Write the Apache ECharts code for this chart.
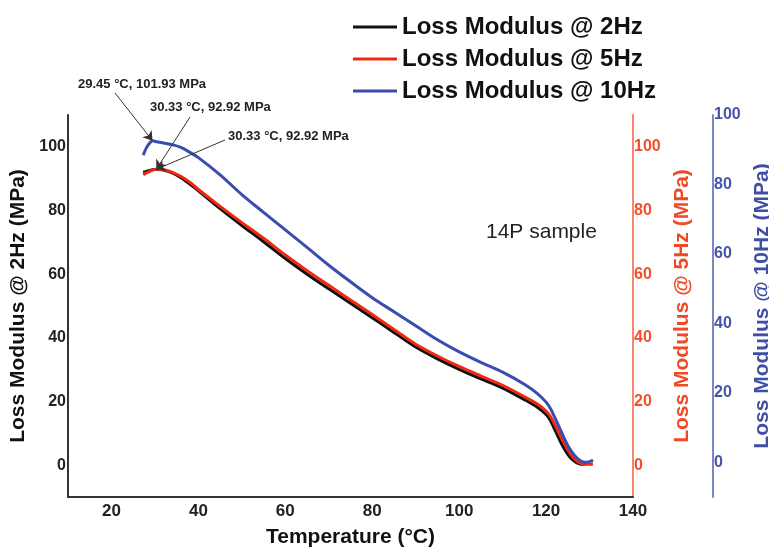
<!DOCTYPE html>
<html>
<head>
<meta charset="utf-8">
<script src="https://cdn.jsdelivr.net/npm/echarts@6/dist/echarts.min.js"></script>
<style>
  html, body { margin: 0; padding: 0; background: #fff; }
  #loss_chart { width: 769px; height: 550px; }
</style>
</head>
<body>
<div id="loss_chart"></div>
<script>
// 温度 (°C)
var temps = [27.3, 28.0, 28.8, 29.45, 30.33, 32, 34, 36, 38, 40, 45, 50, 55, 60, 65, 70, 75, 80, 85, 90,
  95, 100, 105, 110, 115, 118, 120, 121, 122, 123, 124, 125, 126, 127, 128, 129, 130, 130.8]

// loss modulus (MPa)
var loss2Hz = [92.0, 92.3, 92.6, 92.8, 92.92, 92.7, 91.8, 90.3, 88.3, 86.2, 80.6, 75.3, 70.2, 64.9, 60.0, 55.4,
  50.9, 46.3, 41.7, 37.1, 33.4, 30.1, 27.1, 24.2, 20.6, 18.2, 15.9, 14.0, 11.2, 8.3, 5.6, 3.4, 1.8, 0.8, 0.3, 0.3, null, null]
var loss5Hz = [91.2, 91.8, 92.3, 92.7, 92.92, 92.8, 92.0, 90.7, 88.9, 86.6, 81.3, 76.2, 71.3, 66.0, 61.1, 56.5,
  51.9, 47.3, 42.6, 38.0, 34.3, 31.0, 28.0, 25.1, 21.5, 19.2, 17.0, 15.3, 12.8, 10.0, 7.3, 4.8, 2.8, 1.4, 0.6, 0.3, 0.3, 0.4]
var loss10Hz = [97.4, 99.6, 101.2, 101.93, 101.6, 101.2, 100.7, 99.8, 98.3, 96.6, 91.2, 85.0, 79.4, 73.9, 68.4, 62.8,
  57.6, 52.6, 48.2, 43.8, 39.4, 35.6, 32.3, 29.2, 25.4, 22.5, 19.8, 17.8, 15.0, 12.0, 9.0, 6.2, 4.0, 2.4, 1.3, 0.9, 1.1, 1.6]

// 峰值标注
var peak10Hz = [29.45, 101.93]
var peak5Hz = [30.33, 92.92]
var peak2Hz = [30.33, 92.92]

function pairs(xs, ys) {
  var out = []
  for (var i = 0; i < xs.length; i++) {
    out.push([xs[i], ys[i]])
  }
  return out
}

var FONT = 'Liberation Sans, Arial, sans-serif'

function yLabel(v) {
  return v >= 0 && v % 20 === 0 ? String(v) : ''
}

var arrowStyle = { color: '#333', width: 1, type: 'solid' }

var loss_chart = echarts.init(document.getElementById('loss_chart'))
loss_chart_option = {
  animation: false,
  textStyle: { fontFamily: FONT },
  legend: {
    orient: 'vertical',
    left: 348,
    top: 10,
    itemWidth: 44,
    itemHeight: 3,
    itemGap: 8,
    icon: 'rect',
    textStyle: { fontSize: 24, fontWeight: 'bold', color: '#111', fontFamily: FONT },
    data: ['Loss Modulus @ 2Hz', 'Loss Modulus @ 5Hz', 'Loss Modulus @ 10Hz'],
  },
  grid: {
    left: 68,
    right: 136,
    top: 115,
    bottom: 53,
    outerBoundsMode: 'none',
    containLabel: false,
  },
  xAxis: {
    type: 'value',
    min: 10,
    max: 140,
    interval: 10,
    name: 'Temperature (°C)',
    nameLocation: 'middle',
    nameGap: 30,
    nameTextStyle: { fontSize: 21, fontWeight: 'bold', color: '#111', fontFamily: FONT },
    axisLine: { onZero: false, lineStyle: { color: '#333', width: 2 } },
    axisTick: { show: false },
    splitLine: { show: false },
    axisLabel: {
      margin: 6,
      fontSize: 17,
      fontWeight: 'bold',
      color: '#222',
      fontFamily: FONT,
      formatter: function (v) {
        return v % 20 === 0 ? String(v) : ''
      },
    },
  },
  yAxis: [
    {
      type: 'value',
      position: 'left',
      min: -10,
      max: 110,
      interval: 10,
      name: 'Loss Modulus @ 2Hz (MPa)',
      nameLocation: 'middle',
      nameRotate: 90,
      nameGap: 36,
      nameTextStyle: { fontSize: 21, fontWeight: 'bold', color: '#111', fontFamily: FONT },
      axisLine: { show: true, onZero: false, lineStyle: { color: '#333', width: 2 } },
      axisTick: { show: false },
      splitLine: { show: false },
      axisLabel: { margin: 2, fontSize: 16, fontWeight: 'bold', color: '#222', fontFamily: FONT, formatter: yLabel },
    },
    {
      type: 'value',
      position: 'right',
      min: -10,
      max: 110,
      interval: 10,
      name: 'Loss Modulus @ 5Hz (MPa)',
      nameLocation: 'middle',
      nameRotate: 90,
      nameGap: 35,
      nameTextStyle: { fontSize: 21, fontWeight: 'bold', color: '#ef4a25', fontFamily: FONT },
      axisLine: { show: true, onZero: false, lineStyle: { color: '#f4876a', width: 2 } },
      axisTick: { show: false },
      splitLine: { show: false },
      axisLabel: { margin: 1, fontSize: 16, fontWeight: 'bold', color: '#f0502c', fontFamily: FONT, formatter: yLabel },
    },
    {
      type: 'value',
      position: 'right',
      offset: 80,
      min: -10,
      max: 100,
      interval: 10,
      name: 'Loss Modulus @ 10Hz (MPa)',
      nameLocation: 'middle',
      nameRotate: 90,
      nameGap: 35,
      nameTextStyle: { fontSize: 21, fontWeight: 'bold', color: '#3f4fa6', fontFamily: FONT },
      axisLine: { show: true, onZero: false, lineStyle: { color: '#7b86c6', width: 2 } },
      axisTick: { show: false },
      splitLine: { show: false },
      axisLabel: { margin: 1, fontSize: 16, fontWeight: 'bold', color: '#4455aa', fontFamily: FONT, formatter: yLabel },
    },
  ],
  series: [
    {
      name: 'Loss Modulus @ 2Hz',
      type: 'line',
      yAxisIndex: 0,
      data: pairs(temps, loss2Hz),
      symbol: 'none',
      smooth: 0.3,
      clip: false,
      color: '#111',
      lineStyle: { color: '#111', width: 3 },
      markLine: {
        silent: true,
        symbol: ['none', 'arrow'],
        symbolSize: 9,
        label: { show: false },
        lineStyle: arrowStyle,
        data: [[{ x: 225, y: 140 }, { coord: peak2Hz }]],
      },
    },
    {
      name: 'Loss Modulus @ 5Hz',
      type: 'line',
      yAxisIndex: 0,
      data: pairs(temps, loss5Hz),
      symbol: 'none',
      smooth: 0.3,
      clip: false,
      color: '#f02810',
      lineStyle: { color: '#f02810', width: 3 },
      markLine: {
        silent: true,
        symbol: ['none', 'arrow'],
        symbolSize: 9,
        label: { show: false },
        lineStyle: arrowStyle,
        data: [[{ x: 190, y: 117 }, { coord: peak5Hz }]],
      },
    },
    {
      name: 'Loss Modulus @ 10Hz',
      type: 'line',
      yAxisIndex: 0,
      data: pairs(temps, loss10Hz),
      symbol: 'none',
      smooth: 0.3,
      clip: false,
      color: '#3a4cb0',
      lineStyle: { color: '#3a4cb0', width: 3 },
      markLine: {
        silent: true,
        symbol: ['none', 'arrow'],
        symbolSize: 9,
        label: { show: false },
        lineStyle: arrowStyle,
        data: [[{ x: 115, y: 93 }, { coord: peak10Hz }]],
      },
    },
  ],
  graphic: [
    {
      type: 'text',
      left: 78,
      top: 78,
      style: { text: '29.45 °C, 101.93 MPa', font: 'bold 13px ' + FONT, fill: '#222' },
    },
    {
      type: 'text',
      left: 150,
      top: 101,
      style: { text: '30.33 °C, 92.92 MPa', font: 'bold 13px ' + FONT, fill: '#222' },
    },
    {
      type: 'text',
      left: 228,
      top: 130,
      style: { text: '30.33 °C, 92.92 MPa', font: 'bold 13px ' + FONT, fill: '#222' },
    },
    {
      type: 'text',
      left: 486,
      top: 222,
      style: { text: '14P sample', font: '21px ' + FONT, fill: '#222' },
    },
  ],
}
loss_chart.setOption(loss_chart_option)
</script>
</body>
</html>
